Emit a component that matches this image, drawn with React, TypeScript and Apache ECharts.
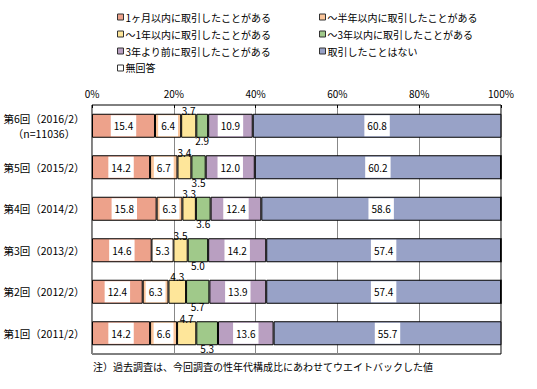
import React, { useEffect, useRef } from "react";
import * as echarts from "echarts";

const categories = [
  "第6回（2016/2）\n（n=11036）",
  "第5回（2015/2）",
  "第4回（2014/2）",
  "第3回（2013/2）",
  "第2回（2012/2）",
  "第1回（2011/2）",
];
const seriesNames = [
  "1ヶ月以内に取引したことがある",
  "～半年以内に取引したことがある",
  "～1年以内に取引したことがある",
  "～3年以内に取引したことがある",
  "3年より前に取引したことがある",
  "取引したことはない",
  "無回答",
];
const within1Month = [15.4, 14.2, 15.8, 14.6, 12.4, 14.2];
const withinHalfYear = [6.4, 6.7, 6.3, 5.3, 6.3, 6.6];
const within1Year = [3.7, 3.4, 3.3, 3.5, 4.3, 4.7];
const within3Years = [2.9, 3.5, 3.6, 5.0, 5.7, 5.3];
const before3Years = [10.9, 12.0, 12.4, 14.2, 13.9, 13.6];
const never = [60.8, 60.2, 58.6, 57.4, 57.4, 55.7];
const noAnswer = [0, 0, 0, 0, 0, 0];
const xTicks = [0, 20, 40, 60, 80, 100];
const note = "注）過去調査は、今回調査の性年代構成比にあわせてウエイトバックした値";

const colors = ["#EDA28B", "#FAC59A", "#FEE69A", "#A0C98A", "#B99FC1", "#98A2C7", "#FFFFFF"];
const FONT = "'Noto Sans CJK JP', sans-serif";

export default function App() {
  const ref = useRef<HTMLDivElement>(null);
  useEffect(() => {
    const chart = echarts.init(ref.current!, null, { renderer: "svg" });
    const datasets = [within1Month, withinHalfYear, within1Year, within3Years, before3Years, never, noAnswer];
    const fmt = (p: any) => Number(p.value).toFixed(1);
    const boxLabel = {
      show: true,
      position: "inside",
      backgroundColor: "#fff",
      padding: [6, 3, 5, 3],
      color: "#000",
      fontSize: 10,
      fontFamily: FONT,
      formatter: fmt,
    };
    const series = datasets.map((d, i) => {
      let label: any = { show: false };
      if (i === 0 || i === 1 || i === 4 || i === 5) label = boxLabel;
      if (i === 2) label = { show: true, position: "top", distance: -2, color: "#000", fontSize: 10, fontFamily: FONT, formatter: fmt };
      if (i === 3) label = { show: true, position: "bottom", distance: -2, color: "#000", fontSize: 10, fontFamily: FONT, formatter: fmt };
      return {
        name: seriesNames[i],
        type: "bar",
        stack: "total",
        barWidth: 24,
        data: d,
        itemStyle: { color: colors[i], borderColor: "#000", borderWidth: 1 },
        label,
        emphasis: { disabled: true },
      };
    });
    const legendCommon = {
      orient: "vertical",
      top: 7,
      itemWidth: 6,
      itemHeight: 6,
      itemGap: 7,
      icon: "rect",
      selectedMode: false,
      textStyle: { color: "#000", fontSize: 10, fontFamily: FONT, padding: [0, 0, 0, -3] },
      itemStyle: { borderColor: "#333", borderWidth: 1 },
    };
    chart.setOption({
      animation: false,
      textStyle: { fontFamily: FONT },
      legend: [
        { ...legendCommon, left: 112, data: [seriesNames[0], seriesNames[2], seriesNames[4], seriesNames[6]] },
        { ...legendCommon, left: 314, data: [seriesNames[1], seriesNames[3], seriesNames[5]] },
      ],
      grid: { left: 92, right: 36, top: 105, bottom: 35, show: true, borderColor: "#000", borderWidth: 1, backgroundColor: "transparent" },
      xAxis: {
        type: "value",
        position: "top",
        min: xTicks[0],
        max: xTicks[xTicks.length - 1],
        interval: 20,
        axisLine: { show: false },
        axisTick: { show: true, inside: true, length: 3, lineStyle: { color: "#000" } },
        splitLine: { show: true, lineStyle: { color: "#888", width: 1 } },
        axisLabel: { formatter: "{value}%", color: "#000", fontSize: 10, fontFamily: FONT, margin: 7 },
      },
      yAxis: {
        type: "category",
        inverse: true,
        data: categories,
        axisLine: { show: false },
        axisTick: { show: false },
        axisLabel: { color: "#000", fontSize: 10.5, fontFamily: FONT, align: "center", margin: 48, lineHeight: 15 },
      },
      graphic: [
        {
          type: "text",
          left: 93,
          top: 361,
          style: { text: note, fill: "#000", fontSize: 10, fontFamily: FONT },
        },
      ],
      series,
    });
    return () => chart.dispose();
  }, []);
  return <div ref={ref} style={{ position: "fixed", left: 0, top: 0, width: 537, height: 389, background: "#fff" }} />;
}
